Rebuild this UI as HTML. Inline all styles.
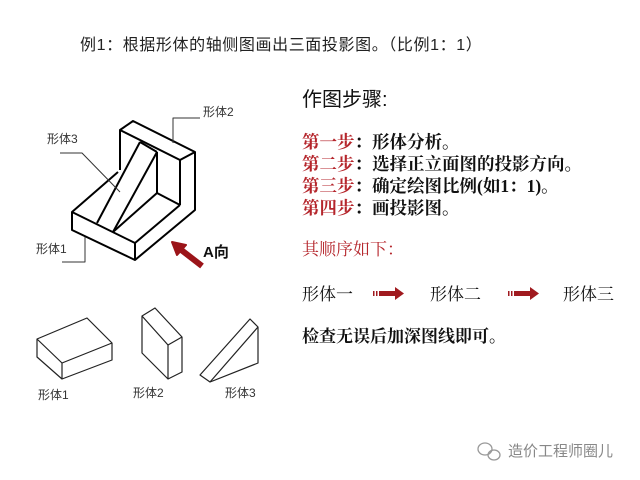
<!DOCTYPE html>
<html><head><meta charset="utf-8"><style>
body{margin:0;width:640px;height:480px;background:#fff;position:relative;overflow:hidden;font-family:"Liberation Serif","Noto Serif CJK SC",serif;color:#111}
.t{position:absolute;white-space:nowrap;line-height:1}
.s{font-family:"Liberation Sans","Noto Sans CJK SC",sans-serif}
.r{color:#b5262c}
</style></head><body>
<div class="t s" style="left:80px;top:38px;font-size:16px;letter-spacing:0.6px;color:#222">例1：根据形体的轴侧图画出三面投影图。（比例1：1）</div>
<svg width="640" height="480" style="position:absolute;left:0;top:0" fill="none" stroke="#000" stroke-linejoin="round">
<g stroke-width="2">
<polyline points="120,170 120,130 133,121 195,152 195,210 135,260 72,230 72,212 118,172"/>
<line x1="120" y1="130" x2="180" y2="160"/>
<line x1="180" y1="160" x2="195" y2="152"/>
<line x1="180" y1="160" x2="180" y2="205"/>
<line x1="72" y1="212" x2="135" y2="243"/>
<line x1="135" y1="243" x2="135" y2="260"/>
<line x1="135" y1="243" x2="180" y2="205"/>
<line x1="157" y1="152" x2="157" y2="193"/>
<line x1="157" y1="193" x2="180" y2="205"/>
<line x1="157" y1="193" x2="113" y2="232"/>
<line x1="140" y1="142" x2="97" y2="223"/>
<line x1="157" y1="152" x2="113" y2="232"/>
<line x1="140" y1="142" x2="157" y2="152"/>
</g>
<g stroke-width="1" stroke="#333">
<polyline points="200,118 173,118 173,143"/>
<polyline points="60,153 82,153 120,192"/>
<polyline points="62,262 85,262 85,237"/>
</g>
<line x1="202" y1="266" x2="180" y2="249" stroke="#9b1419" stroke-width="6"/>
<polygon points="172,242 186,245 177,255" fill="#9b1419" stroke="#9b1419" stroke-width="2"/>
<g stroke-width="1.2" stroke="#222">
<polygon points="37,339 87,318 112,343 112,360 62,379 37,357"/>
<polyline points="37,339 62,363 112,343"/><line x1="62" y1="363" x2="62" y2="379"/>
<polygon points="142,316 155,308 182,337 182,372 168,379 142,353"/>
<polyline points="142,316 168,345 182,337"/><line x1="168" y1="345" x2="168" y2="379"/>
<polygon points="200,375 250,319 258,327 258,363 210,382"/>
<line x1="210" y1="382" x2="258" y2="327"/>
</g>
<g fill="#a01a1f" stroke="none">
<rect x="373" y="291" width="1.5" height="5"/><rect x="376" y="291" width="1.5" height="5"/>
<rect x="379" y="291" width="17" height="5"/><polygon points="395,287 404,293.5 395,300"/>
<rect x="508" y="291" width="1.5" height="5"/><rect x="511" y="291" width="1.5" height="5"/>
<rect x="514" y="291" width="17" height="5"/><polygon points="530,287 539,293.5 530,300"/>
</g>
<g stroke="#999" stroke-width="1.3">
<ellipse cx="485" cy="449" rx="7" ry="6"/><ellipse cx="494" cy="455" rx="6" ry="5"/>
</g>
</svg>
<div class="t s" style="left:203px;top:106px;font-size:12px;color:#333">形体2</div>
<div class="t s" style="left:47px;top:133px;font-size:12px;color:#333">形体3</div>
<div class="t s" style="left:36px;top:243px;font-size:12px;color:#333">形体1</div>
<div class="t s" style="left:203px;top:245px;font-size:15px;font-weight:bold">A向</div>
<div class="t s" style="left:38px;top:389px;font-size:12px;color:#333">形体1</div>
<div class="t s" style="left:133px;top:387px;font-size:12px;color:#333">形体2</div>
<div class="t s" style="left:225px;top:387px;font-size:12px;color:#333">形体3</div>
<div class="t s" style="left:302px;top:90px;font-size:20px">作图步骤:</div>
<div class="t" style="left:302px;top:134px;font-size:17.5px;font-weight:bold"><span class="r">第一步</span>：形体分析。</div>
<div class="t" style="left:302px;top:156px;font-size:17.5px;font-weight:bold"><span class="r">第二步</span>：选择正立面图的投影方向。</div>
<div class="t" style="left:302px;top:178px;font-size:17.5px;font-weight:bold"><span class="r">第三步</span>：确定绘图比例(如1：1)。</div>
<div class="t" style="left:302px;top:200px;font-size:17.5px;font-weight:bold"><span class="r">第四步</span>：画投影图。</div>
<div class="t r" style="left:302px;top:241px;font-size:17px">其顺序如下：</div>
<div class="t" style="left:302px;top:286px;font-size:17px">形体一</div>
<div class="t" style="left:430px;top:286px;font-size:17px">形体二</div>
<div class="t" style="left:563px;top:286px;font-size:17px">形体三</div>
<div class="t" style="left:302px;top:328px;font-size:17px;font-weight:bold">检查无误后加深图线即可。</div>
<div class="t s" style="left:508px;top:444px;font-size:15px;color:#888">造价工程师圈儿</div>
</body></html>
